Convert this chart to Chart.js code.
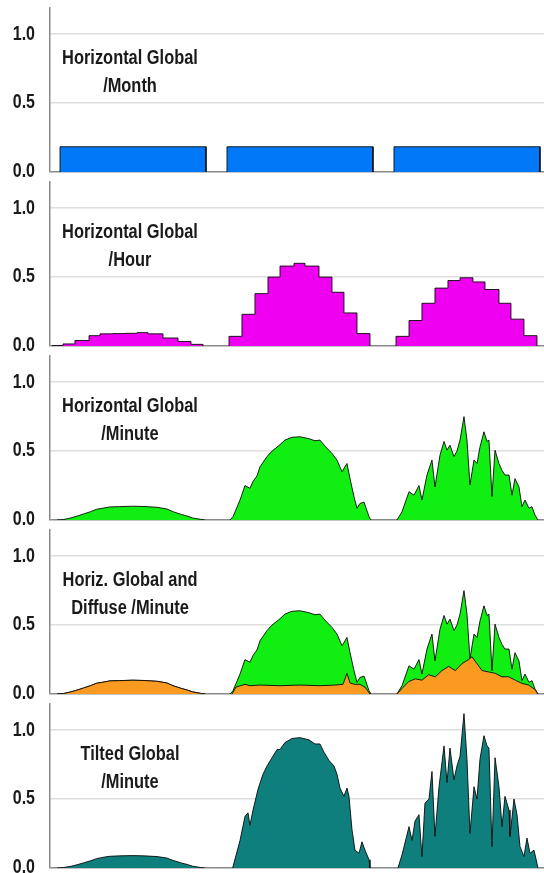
<!DOCTYPE html>
<html><head><meta charset="utf-8">
<script src="https://cdn.jsdelivr.net/npm/chart.js@4.4.0/dist/chart.umd.min.js"></script>
<style>
html,body{margin:0;padding:0;background:#fff;overflow:hidden;}
#wrap{position:relative;width:544px;height:873px;overflow:hidden;}
.panel{position:absolute;left:0;width:544px;height:184px;}
.panel canvas{position:absolute;left:0;top:0;}
.lbl{position:absolute;left:30px;width:200px;top:43px;text-align:center;font-weight:bold;font-size:20px;font-family:"Liberation Sans",Arial,sans-serif;line-height:28px;color:#1a1a1a;white-space:nowrap;z-index:5;transform:scaleX(0.82);transform-origin:100px 0;}
</style></head>
<body><div id="wrap"></div>
<script>
// ---------- data ----------
const dayOffsets = [0, 24, 48];          // hours
const yTickValues = [0, 0.5, 1.0];
const panelTitles = [
  ["Horizontal Global", "/Month"],
  ["Horizontal Global", "/Hour"],
  ["Horizontal Global", "/Minute"],
  ["Horiz. Global and", "Diffuse /Minute"],
  ["Tilted Global", "/Minute"]
];

// monthly mean, shown over each day
const monthStart = [1.44, 1.44, 1.44];
const monthEnd   = [22.42, 22.42, 22.42];
const monthValue = [0.183, 0.183, 0.183];

// hourly steps (edges in local hours, one value per step)
const hourEdgesDay1 = [0.29,1.87,3.59,5.61,7.19,9.05,10.78,12.5,14.08,16.24,18.4,20.26,21.99];
const hourValsDay1  = [0.003,0.015,0.04,0.075,0.088,0.09,0.092,0.097,0.088,0.058,0.033,0.012];
const hourEdgesDay2 = [1.73,3.59,5.46,7.33,9.06,11.07,12.65,14.66,16.53,18.25,20.12,21.99];
const hourValsDay2  = [0.07,0.23,0.38,0.50,0.58,0.60,0.58,0.50,0.39,0.24,0.09];
const hourEdgesDay3 = [1.73,3.60,5.46,7.33,9.2,10.93,12.79,14.52,16.53,18.25,20.12,21.99];
const hourValsDay3  = [0.07,0.185,0.31,0.42,0.475,0.495,0.465,0.41,0.31,0.195,0.075];

// minute global horizontal
const minGlobT1 = [1.0,1.9,3.0,4.0,4.8,5.8,6.7,7.9,8.6,10.0,11.9,13.5,15.4,16.8,17.7,18.9,19.7,20.5,21.6,22.3];
const minGlobV1 = [0,0.003,0.015,0.03,0.043,0.06,0.078,0.088,0.095,0.097,0.1,0.098,0.092,0.08,0.06,0.04,0.029,0.015,0.005,0];
const minGlobT2 = [1.87,2.30,3.31,4.03,4.74,5.18,5.75,6.18,7.19,7.91,8.91,9.77,10.78,11.93,13.22,14.09,14.80,15.52,16.53,17.25,17.97,18.68,19.12,19.69,20.12,20.55,21.13,21.85,22.13];
const minGlobV2 = [0,0.024,0.145,0.25,0.23,0.28,0.32,0.386,0.46,0.5,0.54,0.58,0.6,0.604,0.59,0.575,0.58,0.536,0.483,0.435,0.35,0.41,0.30,0.17,0.085,0.12,0.13,0.024,0];
const minGlobT3 = [1.87,2.59,3.60,4.31,5.03,5.46,6.18,6.90,7.33,8.05,8.63,9.06,9.49,10.06,10.49,10.93,11.50,11.93,12.36,12.94,13.37,13.80,14.37,14.81,15.09,15.52,15.96,16.53,16.96,17.39,17.97,18.40,18.83,19.40,19.84,20.27,20.84,21.27,21.70,22.13];
const minGlobV3 = [0,0.06,0.205,0.18,0.25,0.145,0.326,0.435,0.24,0.47,0.57,0.507,0.543,0.46,0.5,0.58,0.75,0.58,0.254,0.435,0.41,0.53,0.64,0.57,0.58,0.17,0.507,0.41,0.36,0.326,0.326,0.18,0.30,0.24,0.097,0.145,0.085,0.097,0.036,0];

// minute diffuse horizontal (day 1 overcast: diffuse equals global)
const minDiffT1 = minGlobT1;
const minDiffV1 = minGlobV1;
const minDiffT2 = [2.16,2.73,4.03,4.74,6.18,9.06,11.93,14.80,16.96,18.11,18.68,19.12,19.83,20.55,21.27,21.99];
const minDiffV2 = [0,0.05,0.07,0.06,0.065,0.06,0.065,0.06,0.065,0.07,0.15,0.08,0.07,0.07,0.05,0];
const minDiffT3 = [1.87,2.59,3.55,4.51,5.46,6.42,7.38,8.34,9.30,10.25,11.21,12.17,12.65,13.37,14.09,15.05,16.00,16.96,17.92,18.88,19.84,20.80,21.75,22.09];
const minDiffV3 = [0,0.04,0.09,0.11,0.10,0.14,0.125,0.17,0.20,0.17,0.22,0.25,0.27,0.22,0.17,0.16,0.15,0.125,0.125,0.10,0.077,0.065,0.03,0];

// minute tilted global
const minTiltT1 = minGlobT1;
const minTiltV1 = [0,0.003,0.012,0.025,0.037,0.052,0.068,0.08,0.085,0.088,0.09,0.088,0.083,0.072,0.055,0.036,0.026,0.013,0.004,0];
const minTiltT2 = [2.2,2.30,3.31,4.03,4.46,4.74,5.18,5.89,6.61,7.19,7.91,8.63,9.06,9.77,10.78,11.93,13.22,14.09,14.80,15.38,16.10,16.82,17.25,17.68,18.25,18.68,18.97,19.40,19.83,20.41,20.84,21.27,21.85,21.99];
const minTiltV2 = [0,0.01,0.2,0.375,0.4,0.31,0.42,0.57,0.68,0.74,0.8,0.86,0.86,0.91,0.94,0.946,0.93,0.9,0.9,0.84,0.78,0.74,0.68,0.58,0.52,0.58,0.52,0.28,0.13,0.107,0.19,0.13,0.06,0];
const minTiltT3 = [2.01,2.59,3.60,4.03,4.46,5.03,5.46,5.89,6.47,6.90,7.33,7.91,8.63,9.06,9.49,10.06,10.49,10.93,11.50,11.93,12.36,12.94,13.37,13.80,14.37,14.81,15.09,15.52,15.96,16.53,16.96,17.39,17.97,18.11,18.69,19.12,19.55,20.12,20.55,20.99,21.56,21.99,22.13];
const minTiltV3 = [0,0.095,0.3,0.2,0.34,0.387,0.083,0.47,0.5,0.7,0.23,0.59,0.886,0.62,0.87,0.64,0.74,0.81,1.12,0.79,0.25,0.59,0.5,0.79,0.96,0.886,0.87,0.156,0.8,0.59,0.3,0.52,0.42,0.23,0.5,0.387,0.156,0.083,0.217,0.107,0.13,0.034,0];

// ---------- styling ----------
const FONT = '"Liberation Sans",Arial,sans-serif';
const OUTLINE = 'rgba(10,10,10,0.9)';
const COL = {month:'#0078f8', hour:'#f000f0', glob:'#11ee11', diff:'#fb9a20', tilt:'#0e7f7c'};
const TICK_PAD = 15;
const NARROW = 0.82;

// ---------- builders ----------
function rectPts(d){
  const o = dayOffsets[d];
  return [{x:o+monthStart[d],y:0},{x:o+monthStart[d],y:monthValue[d]},{x:o+monthEnd[d],y:monthValue[d]},{x:o+monthEnd[d],y:0}];
}
function stepPts(edges, vals, d){
  const o = dayOffsets[d];
  const pts = [{x:o+edges[0], y:0}];
  vals.forEach((v,i)=>pts.push({x:o+edges[i], y:v}));
  pts.push({x:o+edges[edges.length-1], y:0});
  return pts;
}
function seriesPts(ts, vs, d){
  const o = dayOffsets[d];
  return ts.map((t,i)=>({x:o+t, y:vs[i]}));
}
function ds(data, color, extra){
  return Object.assign({data, backgroundColor:color, borderColor:OUTLINE, borderWidth:1,
    pointRadius:0, tension:0, fill:'origin'}, extra||{});
}

const panels = [
  [0,1,2].map(d=>ds(rectPts(d), COL.month)),
  [[hourEdgesDay1,hourValsDay1],[hourEdgesDay2,hourValsDay2],[hourEdgesDay3,hourValsDay3]]
      .map((e,d)=>ds(stepPts(e[0],e[1],d), COL.hour, {stepped:true})),
  [[minGlobT1,minGlobV1],[minGlobT2,minGlobV2],[minGlobT3,minGlobV3]]
      .map((e,d)=>ds(seriesPts(e[0],e[1],d), COL.glob)),
  [].concat(
    [[minDiffT1,minDiffV1],[minDiffT2,minDiffV2],[minDiffT3,minDiffV3]]
      .map((e,d)=>ds(seriesPts(e[0],e[1],d), COL.diff, {order:0})),
    [[minGlobT1,minGlobV1],[minGlobT2,minGlobV2],[minGlobT3,minGlobV3]]
      .map((e,d)=>ds(seriesPts(e[0],e[1],d), COL.glob, {order:1}))
  ),
  [[minTiltT1,minTiltV1],[minTiltT2,minTiltV2],[minTiltT3,minTiltV3]]
      .map((e,d)=>ds(seriesPts(e[0],e[1],d), COL.tilt))
];

const wrap = document.getElementById('wrap');
panels.forEach((datasets, i)=>{
  const div = document.createElement('div');
  div.className = 'panel';
  div.style.top = (174*i) + 'px';
  const cv = document.createElement('canvas');
  cv.width = 544; cv.height = 184;
  div.appendChild(cv);
  const lbl = document.createElement('div');
  lbl.className = 'lbl';
  lbl.innerHTML = panelTitles[i].map(s=>'<div>'+s+'</div>').join('');
  div.appendChild(lbl);
  wrap.appendChild(div);

  new Chart(cv, {
    type:'line',
    data:{datasets},
    options:{
      responsive:false, animation:false, events:[],
      layout:{padding:{top:8,bottom:12,left:0,right:0}},
      plugins:{legend:{display:false}, tooltip:{enabled:false}},
      scales:{
        x:{type:'linear', min:0, max:71, display:false},
        y:{type:'linear', min:0, max:1.19,
           afterFit(s){
             s.width = 50; s.paddingTop = 0; s.paddingBottom = 0;
             // condensed (narrow) tick lettering, anchored at the labels' right edge
             if (!s._narrowPatched){
               const base = s.drawLabels;
               s.drawLabels = function(ca){
                 const ctx = this.ctx, pivot = this.right - TICK_PAD;
                 ctx.save(); ctx.translate(pivot,0); ctx.scale(NARROW,1); ctx.translate(-pivot,0);
                 base.call(this, ca);
                 ctx.restore();
               };
               s._narrowPatched = true;
             }
           },
           afterBuildTicks(s){ s.ticks = yTickValues.map(v=>({value:v})); },
           ticks:{callback:v=>Number(v).toFixed(1), color:'#1a1a1a', padding:TICK_PAD,
                  font:{family:FONT, size:19.5, weight:'bold'}},
           grid:{drawTicks:false,
                 color:c=>(c.tick && c.tick.value===0)?'#8a8a8a':'#dedede',
                 lineWidth:1.5},
           border:{display:true, color:'#8a8a8a', width:1.5}
        }
      }
    }
  });
});
</script>
</body></html>
